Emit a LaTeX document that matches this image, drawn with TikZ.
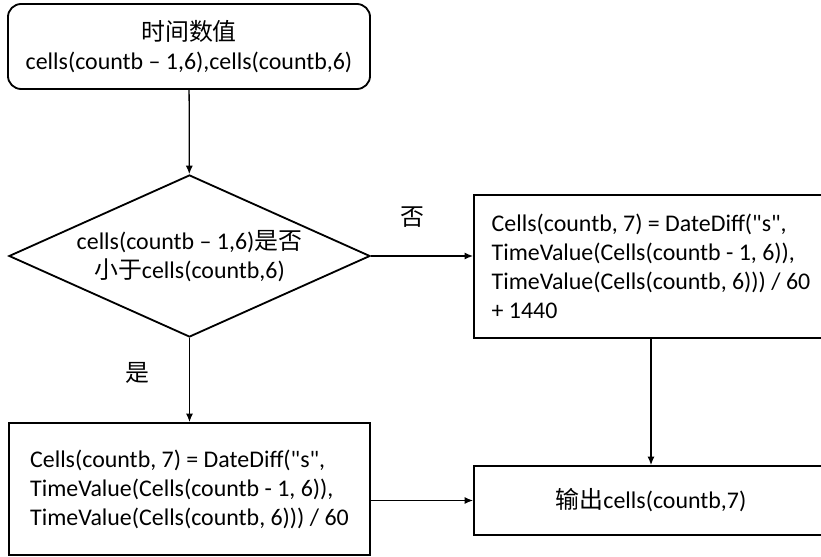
\documentclass[tikz,border=0pt]{standalone}
\usepackage{fontspec}
\setmainfont{Carlito}
\newfontfamily\cjk{Noto Sans CJK SC}
\newcommand{\zh}[1]{{\cjk #1}}
\newcommand{\qs}{\textquotedbl s\textquotedbl}
\usetikzlibrary{shapes.geometric, arrows.meta}

\begin{document}
\begin{tikzpicture}[
  x=0.025cm, y=-0.025cm,
  font=\fontsize{17}{20.6}\selectfont,
  term/.style={rectangle, rounded corners=0.33cm, draw, line width=1.3pt,
               align=center, minimum width=9.05cm, minimum height=2.125cm},
  proc/.style={rectangle, draw, line width=1.3pt, align=left, inner sep=0pt},
  decis/.style={diamond, aspect=2.2, draw, line width=1.3pt, inner sep=-2pt,
                align=center, minimum width=9.025cm, minimum height=4.05cm},
  arr/.style={-{Latex[length=6pt, width=5pt]}, line width=0.9pt},
  lbl/.style={inner sep=0pt}
]
\clip (0,0) rectangle (821,557);

% start, decision and the two branches
\node[term]  (start)  at (189,46.5)  {\zh{时间数值}\\cells(countb -- 1,6),cells(countb,6)};
\node[decis] (decide) at (189.5,256) {cells(countb -- 1,6)\zh{是否}\\\zh{小于}cells(countb,6)};
\node[proc, minimum width=9.025cm, minimum height=3.3cm] (yesbox) at (189.5,489)
  {Cells(countb, 7) = DateDiff(\qs,\\TimeValue(Cells(countb - 1, 6)),\\TimeValue(Cells(countb, 6))) / 60};
\node[proc, minimum width=8.85cm, minimum height=3.575cm] (nobox) at (651,266.5)
  {Cells(countb, 7) = DateDiff(\qs,\\TimeValue(Cells(countb - 1, 6)),\\TimeValue(Cells(countb, 6))) / 60\\+ 1440};
\node[proc, align=center, minimum width=8.85cm, minimum height=1.725cm] (out) at (651,500.5)
  {\zh{输出}cells(countb,7)};

% branch labels
\node[lbl] (nolbl)  at (412,217) {\zh{否}};
\node[lbl] (yeslbl) at (137,373) {\zh{是}};

% connectors
\draw[arr] (start) -- (decide);
\draw[arr] (decide) -- (yesbox);
\draw[arr] (decide.east) -- (decide.east -| nobox.west);
\draw[arr] (nobox) -- (out);
\draw[arr] (yesbox.east |- out.west) -- (out.west);
\end{tikzpicture}
\end{document}
